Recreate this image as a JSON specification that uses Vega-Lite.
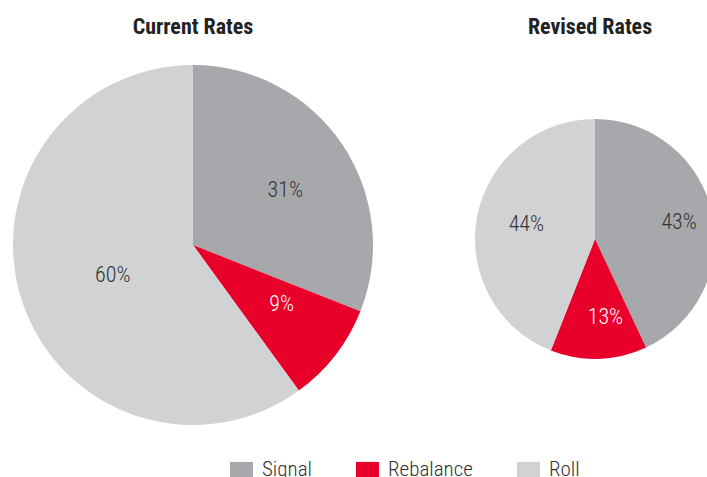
{
  "$schema": "https://vega.github.io/schema/vega-lite/v6.json",
  "padding": {"left": 13, "top": 16, "right": 0, "bottom": 0},
  "background": "white",
  "datasets": {
    "current": [
      {"type": "Signal", "share": 0.31, "ord": 1},
      {"type": "Rebalance", "share": 0.09, "ord": 2},
      {"type": "Roll", "share": 0.60, "ord": 3}
    ],
    "revised": [
      {"type": "Signal", "share": 0.43, "ord": 1},
      {"type": "Rebalance", "share": 0.13, "ord": 2},
      {"type": "Roll", "share": 0.44, "ord": 3}
    ]
  },
  "spacing": 102,
  "hconcat": [
    {
      "title": {"text": "Current Rates"},
      "width": 360,
      "height": 360,
      "data": {"name": "current"},
      "encoding": {
        "theta": {"field": "share", "type": "quantitative", "stack": true},
        "order": {"field": "ord", "type": "quantitative"}
      },
      "layer": [
        {
          "mark": {"type": "arc", "outerRadius": 180, "strokeWidth": 0},
          "encoding": {
            "color": {
              "field": "type", "type": "nominal",
              "scale": {"domain": ["Signal", "Rebalance", "Roll"], "range": ["#a7a8ab", "#e8002b", "#d1d2d4"]},
              "legend": {
                "title": null, "orient": "none", "legendX": 217, "legendY": 393, "offset": 0,
                "direction": "horizontal",
                "symbolType": "M-1,-0.68H1V0.68H-1Z", "symbolSize": 529,
                "symbolStrokeWidth": 0, "symbolOpacity": 1,
                "labelFontSize": 21, "labelFontWeight": 300, "labelColor": "#333333", "labelOffset": 9,
                "columnPadding": 44
              }
            }
          }
        },
        {
          "mark": {"type": "text", "radius": 97, "dx": 12, "fontSize": 22, "fontWeight": 300},
          "encoding": {
            "detail": {"field": "type", "type": "nominal"},
            "text": {"field": "share", "type": "quantitative", "format": ".0%"},
            "color": {"condition": {"test": "datum.type === 'Rebalance'", "value": "white"}, "value": "#333333"}
          }
        }
      ]
    },
    {
      "title": {"text": "Revised Rates", "dx": -5},
      "width": 240,
      "height": 348,
      "data": {"name": "revised"},
      "encoding": {
        "theta": {"field": "share", "type": "quantitative", "stack": true},
        "order": {"field": "ord", "type": "quantitative"}
      },
      "layer": [
        {
          "mark": {"type": "arc", "outerRadius": 120, "strokeWidth": 0},
          "encoding": {
            "color": {"field": "type", "type": "nominal"}
          }
        },
        {
          "mark": {"type": "text", "radius": 78, "dx": 8, "fontSize": 22, "fontWeight": 300},
          "encoding": {
            "detail": {"field": "type", "type": "nominal"},
            "text": {"field": "share", "type": "quantitative", "format": ".0%"},
            "color": {"condition": {"test": "datum.type === 'Rebalance'", "value": "white"}, "value": "#333333"}
          }
        }
      ]
    }
  ],
  "config": {
    "font": "Roboto Condensed, Liberation Sans Narrow, DejaVu Sans Condensed, sans-serif",
    "view": {"stroke": null},
    "title": {"fontSize": 22, "fontWeight": "bold", "color": "#222222", "anchor": "middle", "baseline": "alphabetic", "offset": 26},
    "text": {"font": "Roboto Condensed, Liberation Sans Narrow, DejaVu Sans Condensed, sans-serif"}
  }
}
